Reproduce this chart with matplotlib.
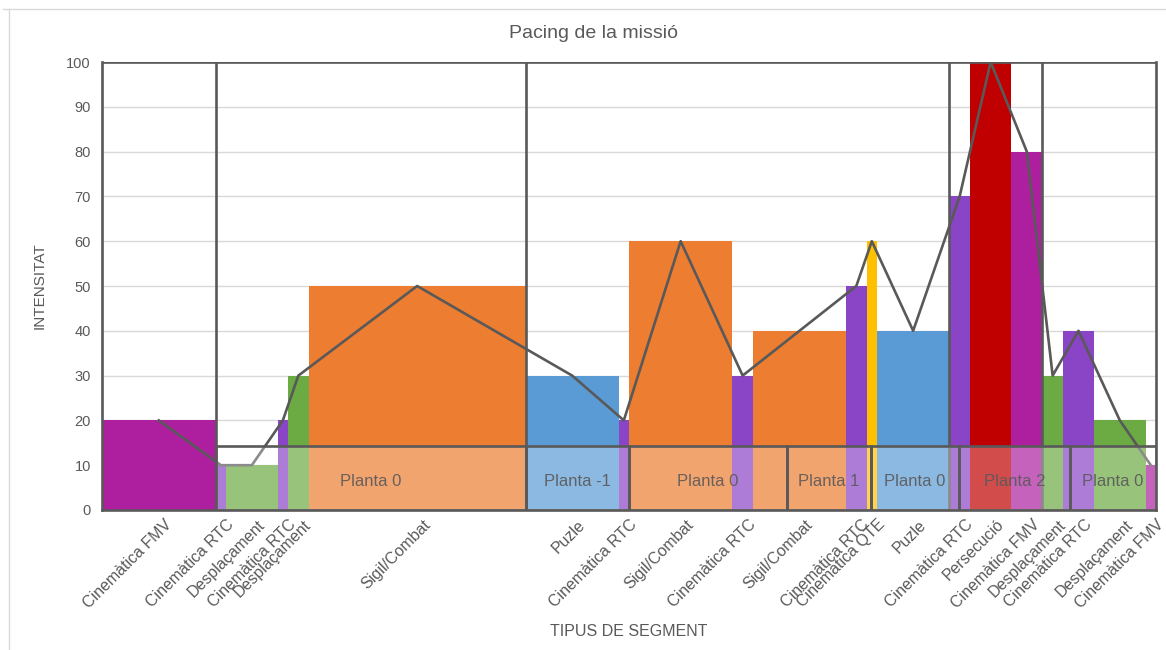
import matplotlib
matplotlib.use("Agg")
import matplotlib.pyplot as plt
import matplotlib.transforms as mtransforms
from matplotlib.lines import Line2D
import numpy as np

# dades del pacing
segments = ["Cinemàtica FMV", "Cinemàtica RTC", "Desplaçament", "Cinemàtica RTC", "Desplaçament",
            "Sigil/Combat", "Puzle", "Cinemàtica RTC", "Sigil/Combat", "Cinemàtica RTC",
            "Sigil/Combat", "Cinemàtica RTC", "Cinemàtica QTE", "Puzle", "Cinemàtica RTC",
            "Persecució", "Cinemàtica FMV", "Desplaçament", "Cinemàtica RTC", "Desplaçament",
            "Cinemàtica FMV"]
durations = [11, 1, 5, 1, 2, 21, 9, 1, 10, 2, 9, 2, 1, 7, 2, 4, 3, 2, 3, 5, 1]
intensities = [20, 10, 10, 20, 30, 50, 30, 20, 60, 30, 40, 50, 60, 40, 70, 100, 80, 30, 40, 20, 10]

type_colors = {
    "Cinemàtica FMV": "#AD1F9F",
    "Cinemàtica RTC": "#8A44C6",
    "Desplaçament": "#6CAA43",
    "Sigil/Combat": "#ED7D31",
    "Puzle": "#5B9BD5",
    "Cinemàtica QTE": "#FFC000",
    "Persecució": "#C00000",
}

# seccions (línies verticals) i plantes (franja inferior)
section_edges = [11, 41, 82, 91]
planta_labels = ["Planta 0", "Planta -1", "Planta 0", "Planta 1", "Planta 0", "Planta 2", "Planta 0"]
planta_edges = [11, 41, 51, 66.3, 74.4, 82.9, 93.7, 102]
band_height = 14.3

plt.rcParams['font.family'] = ['Liberation Sans', 'DejaVu Sans']
grey = "#595959"

fig = plt.figure(figsize=(11.66, 6.5), dpi=100)
ax = fig.add_axes([0.0875, 0.2154, 0.9039, 0.6892])

edges = np.concatenate([[0], np.cumsum(durations)])
lefts = edges[:-1]
centers = lefts + np.array(durations) / 2
colors = [type_colors[s] for s in segments]

ax.bar(lefts, intensities, width=durations, align='edge', color=colors, zorder=2)
ax.plot(centers, intensities, color=grey, lw=1.9, zorder=3)

for x in section_edges:
    ax.plot([x, x], [0, 100], color=grey, lw=1.9, zorder=3)
ax.plot([0, edges[-1]], [100, 100], color=grey, lw=1.9, zorder=3)

# franja de plantes
ax.bar(planta_edges[0], band_height, width=planta_edges[-1] - planta_edges[0], align='edge',
       color='white', alpha=0.3, zorder=4)
for i, lab in enumerate(planta_labels):
    l, r = planta_edges[i], planta_edges[i + 1]
    ax.bar(l, band_height, width=r - l, align='edge', fill=False,
           edgecolor=grey, lw=1.9, zorder=5)
    ax.text((l + r) / 2, band_height / 2 - 0.8, lab, ha='center', va='center',
            fontsize=12, color=grey, alpha=0.9, zorder=6)

ax.set_xlim(0, edges[-1])
ax.set_ylim(0, 100)
ax.set_yticks(range(0, 101, 10))
ax.yaxis.grid(True, color='#D9D9D9', lw=1)
ax.set_axisbelow(True)
ax.tick_params(axis='y', length=0, labelsize=10.5, labelcolor=grey, pad=8)
ax.tick_params(axis='x', length=0, labelsize=11.5, labelcolor=grey, pad=5)

ax.set_xticks(centers)
ax.set_xticklabels(segments, rotation=45, ha='right')
offset = mtransforms.ScaledTranslation(0.16, 0, fig.dpi_scale_trans)
for lbl in ax.get_xticklabels():
    lbl.set_transform(lbl.get_transform() + offset)

for sp in ax.spines.values():
    sp.set_color(grey)
    sp.set_linewidth(1.9)
ax.spines['top'].set_visible(False)

ax.set_ylabel("INTENSITAT", fontsize=11, color=grey, labelpad=14)
ax.set_xlabel("TIPUS DE SEGMENT", fontsize=11.5, color=grey)
ax.xaxis.set_label_coords(0.5, -0.254)
fig.text(0.509, 0.949, "Pacing de la missió", ha='center', va='center', fontsize=14, color=grey)

# marc del gràfic
fig.add_artist(Line2D([0.008, 0.008], [0, 0.986], color='#D9D9D9', lw=1))
fig.add_artist(Line2D([0.003, 1], [0.986, 0.986], color='#D9D9D9', lw=1))

fig.savefig("out.png", dpi=100)
